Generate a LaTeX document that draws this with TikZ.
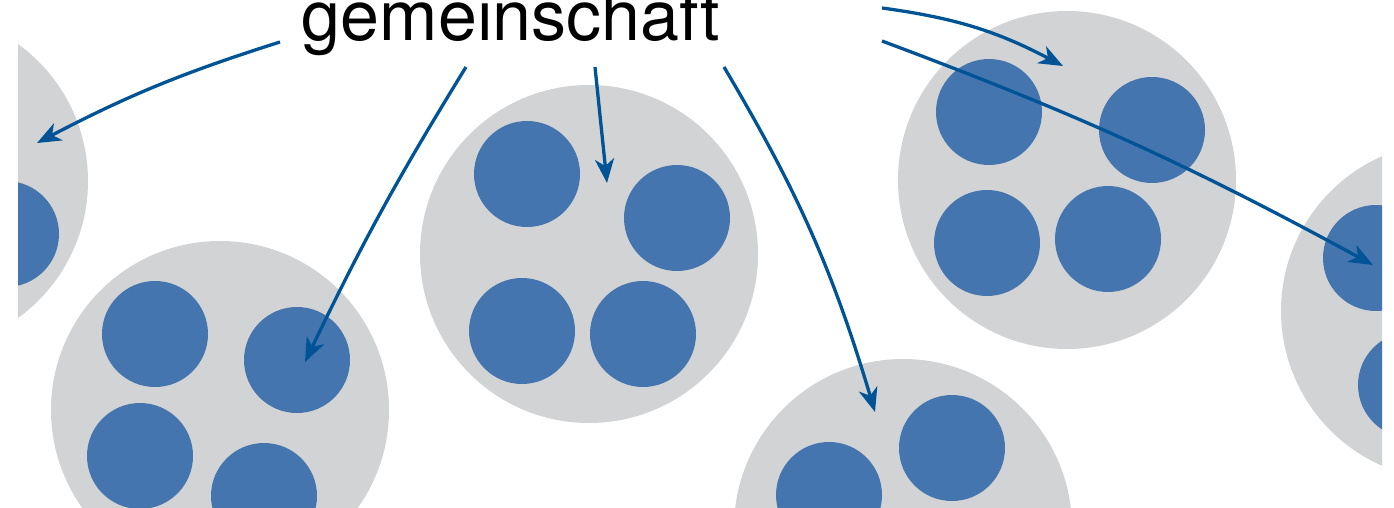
\documentclass[tikz,border=0pt]{standalone}
\usepackage{fontspec}
\setmainfont{TeX Gyre Heros}
\usetikzlibrary{arrows.meta}
\definecolor{cellgray}{RGB}{209,211,212}
\definecolor{dotblue}{RGB}{68,117,175}
\definecolor{arrowblue}{RGB}{0,84,150}
\tikzset{
  cell/.style={circle, fill=cellgray, minimum size=338pt, inner sep=0pt, outer sep=0pt},
  dot/.style={circle, fill=dotblue, minimum size=106pt, inner sep=0pt, outer sep=0pt},
  link/.style={draw=arrowblue, line width=3.3pt, -{Stealth[length=24pt, width=19pt, inset=7pt]}},
  title/.style={font=\fontsize{70}{80}\selectfont, inner sep=0pt, anchor=base}
}
\begin{document}
\begin{tikzpicture}[x=1pt, y=-1pt]
\useasboundingbox (0,0) rectangle (1394,508);
\begin{scope}
\clip (18,0) rectangle (1382,508);
% large cells
\node[cell] (c1) at (-81,181) {};
\node[cell] (c2) at (220,410) {};
\node[cell] (c3) at (589,254) {};
\node[cell] (c4) at (1067,180) {};
\node[cell] (c5) at (903,528) {};
\node[cell] (c6) at (1450,311) {};
% small dots
\node[dot] (d11) at (6,234) {};
\node[dot] (d21) at (155,334) {};
\node[dot] (d22) at (297,360) {};
\node[dot] (d23) at (140,456) {};
\node[dot] (d24) at (264,496) {};
\node[dot] (d31) at (527,174) {};
\node[dot] (d32) at (677,218) {};
\node[dot] (d33) at (522,331) {};
\node[dot] (d34) at (643,334) {};
\node[dot] (d41) at (989,112) {};
\node[dot] (d42) at (1152,130) {};
\node[dot] (d43) at (987,243) {};
\node[dot] (d44) at (1108,239) {};
\node[dot] (d51) at (952,448) {};
\node[dot] (d52) at (829,495) {};
\node[dot] (d61) at (1376,258) {};
\node[dot] (d62) at (1411,385) {};
% label
\node[title] (lbl) at (511,41) {gemeinschaft};
% arrow start and end points
\coordinate (s1) at (280,42);
\coordinate (s2) at (466,67);
\coordinate (s3) at (595,67);
\coordinate (s4) at (724,67);
\coordinate (s5) at (882,8);
\coordinate (s6) at (882,41);
\coordinate (t1) at (37,143);
\coordinate (t2) at (305,362);
\coordinate (t3) at (607,183);
\coordinate (t4) at (875,412);
\coordinate (t5) at (1063,66);
\coordinate (t6) at (1373,265);
% arrows
\draw[link] (s1) to[bend right=5] (t1);
\draw[link] (s2) to[bend right=3] (t2);
\draw[link] (s3) -- (t3);
\draw[link] (s4) to[bend left=7] (t4);
\draw[link] (s5) to[bend left=10] (t5);
\draw[link] (s6) to[bend left=4] (t6);
\end{scope}
\end{tikzpicture}
\end{document}
